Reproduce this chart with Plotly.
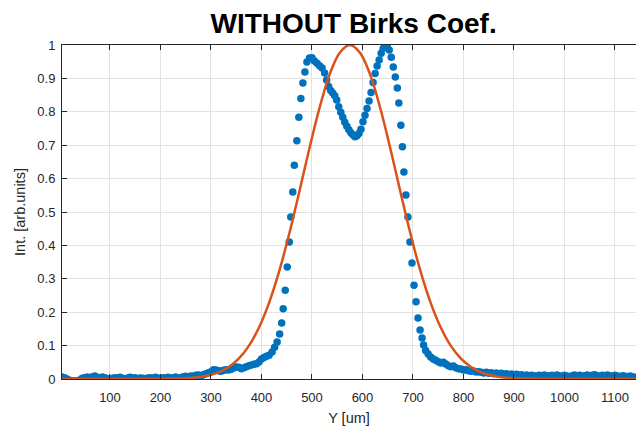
import plotly.graph_objects as go

# ---- measured data (blue dots) ----
left_tail_x = list(range(5, 420, 5))
left_tail_y = [0.006, 0.004, 0.000, -0.004, -0.006, -0.005, -0.006, -0.003, 0.002, 0.004,
               0.006, 0.004, 0.007, 0.009, 0.005, 0.003, 0.006, 0.004, 0.001, -0.001,
               0.002, 0.004, 0.003, 0.005, 0.002, 0.000, 0.003, 0.005, 0.002, 0.004,
               0.001, 0.003, 0.002, 0.000, 0.003, 0.004, 0.002, 0.005, 0.003, 0.001,
               0.004, 0.003, 0.005, 0.002, 0.004, 0.006, 0.004, 0.003, 0.007, 0.008,
               0.006, 0.009, 0.008, 0.011, 0.012, 0.010, 0.013, 0.016, 0.019, 0.022,
               0.028, 0.027, 0.025, 0.023, 0.026, 0.028, 0.027, 0.029, 0.033, 0.036,
               0.035, 0.031, 0.034, 0.037, 0.040, 0.042, 0.044, 0.046, 0.051, 0.060,
               0.064, 0.068, 0.071]

peak_x = [421, 426, 431, 436, 440, 443, 447, 451, 455, 458, 462, 465, 470, 474, 478, 482,
          486, 490, 495, 500, 505, 510, 515, 520, 525, 529, 533, 537, 541, 545, 549, 553,
          557, 561, 565, 569, 573, 577, 581, 585, 589, 593, 597, 601, 605, 609, 613, 617,
          621, 625, 629, 633, 637, 641, 645, 649, 653, 657, 661, 665, 669, 672, 676, 679,
          682, 686, 690, 694, 698, 702, 706, 710, 714, 718, 721, 725]
peak_y = [0.081, 0.095, 0.111, 0.135, 0.168, 0.210, 0.266, 0.335, 0.410, 0.485, 0.560, 0.640,
          0.713, 0.784, 0.840, 0.886, 0.919, 0.949, 0.961, 0.962, 0.952, 0.945, 0.938, 0.931,
          0.916, 0.895, 0.876, 0.864, 0.856, 0.848, 0.835, 0.815, 0.799, 0.784, 0.769, 0.757,
          0.746, 0.737, 0.731, 0.725, 0.728, 0.735, 0.748, 0.770, 0.790, 0.810, 0.832, 0.858,
          0.888, 0.915, 0.937, 0.955, 0.975, 0.990, 1.000, 0.994, 0.985, 0.963, 0.934, 0.904,
          0.871, 0.826, 0.760, 0.695, 0.620, 0.551, 0.485, 0.410, 0.347, 0.281, 0.231, 0.183,
          0.147, 0.123, 0.102, 0.085]

right_tail_x = list(range(730, 1145, 5))
right_tail_y = [0.075, 0.066, 0.060, 0.056, 0.052, 0.048, 0.050, 0.045, 0.040, 0.037,
                0.039, 0.034, 0.031, 0.030, 0.027, 0.028, 0.025, 0.023, 0.024, 0.021,
                0.022, 0.020, 0.018, 0.020, 0.017, 0.019, 0.016, 0.018, 0.015, 0.017,
                0.014, 0.016, 0.013, 0.015, 0.012, 0.014, 0.011, 0.013, 0.010, 0.012,
                0.009, 0.011, 0.010, 0.008, 0.011, 0.009, 0.012, 0.010, 0.008, 0.011,
                0.009, 0.012, 0.010, 0.008, 0.011, 0.009, 0.007, 0.010, 0.012, 0.009,
                0.011, 0.008, 0.010, 0.012, 0.009, 0.011, 0.013, 0.010, 0.008, 0.011,
                0.009, 0.012, 0.010, 0.008, 0.011, 0.009, 0.007, 0.010, 0.008, 0.006,
                0.009, 0.007, 0.005]

# ---- fitted curve (red) ----
fit_x = [5, 200, 250, 275, 295, 315, 335, 355, 375, 395, 415, 435, 455, 475, 495, 515, 535,
         555, 575, 595, 615, 635, 655, 675, 695, 715, 735, 755, 775, 795, 815, 835, 855, 875,
         900, 950, 1140]
fit_y = [0.0, 0.0003, 0.0022, 0.0055, 0.011, 0.020, 0.036, 0.061, 0.099, 0.154, 0.228, 0.322,
         0.435, 0.561, 0.691, 0.812, 0.912, 0.977, 1.0, 0.977, 0.912, 0.812, 0.691, 0.561,
         0.435, 0.322, 0.228, 0.154, 0.099, 0.061, 0.036, 0.020, 0.011, 0.0055, 0.0022,
         0.0003, 0.0]

x_ticks = [100, 200, 300, 400, 500, 600, 700, 800, 900, 1000, 1100]
y_ticks = [0, 0.1, 0.2, 0.3, 0.4, 0.5, 0.6, 0.7, 0.8, 0.9, 1]
y_tick_text = ["0", "0.1", "0.2", "0.3", "0.4", "0.5", "0.6", "0.7", "0.8", "0.9", "1"]

data_x = left_tail_x + peak_x + right_tail_x
data_y = left_tail_y + peak_y + right_tail_y

fig = go.Figure()
fig.add_trace(go.Scatter(
    x=data_x, y=data_y, mode="markers",
    marker=dict(color="#0072BD", size=7.5, line=dict(width=0)),
    showlegend=False, cliponaxis=True))
fig.add_trace(go.Scatter(
    x=fit_x, y=fit_y, mode="lines",
    line=dict(color="#D95319", width=2.5, shape="spline", smoothing=1.0),
    showlegend=False))

axis_color = "#262626"
fig.update_layout(
    width=636, height=428,
    margin=dict(l=62, r=0, t=45, b=49),
    paper_bgcolor="white", plot_bgcolor="white",
    font=dict(family="Liberation Sans, Arial, sans-serif", color=axis_color, size=13),
    title=dict(text="<b>WITHOUT Birks Coef.</b>", x=0.556, xanchor="center",
               y=0.946, yanchor="middle",
               font=dict(size=28, color="black", family="Liberation Sans, Arial, sans-serif")),
    xaxis=dict(range=[5, 1141.6], tickvals=x_ticks, ticks="inside", ticklen=5,
               tickcolor=axis_color, showline=True, linecolor=axis_color, linewidth=1,
               mirror="ticks", showgrid=True, gridcolor="#e3e3e3", gridwidth=1,
               zeroline=False, ticklabelstandoff=6,
               title=dict(text="Y [um]", font=dict(size=14.5), standoff=9),
               tickfont=dict(size=13)),
    yaxis=dict(range=[0, 1], tickvals=y_ticks, ticktext=y_tick_text, ticks="inside",
               ticklen=5, tickcolor=axis_color, showline=True, linecolor=axis_color,
               linewidth=1, showgrid=True, gridcolor="#e3e3e3", gridwidth=1,
               zeroline=False, ticklabelstandoff=3,
               title=dict(text="Int. [arb.units]", font=dict(size=14.5), standoff=8),
               tickfont=dict(size=13)),
)

fig.write_html("out.html")
